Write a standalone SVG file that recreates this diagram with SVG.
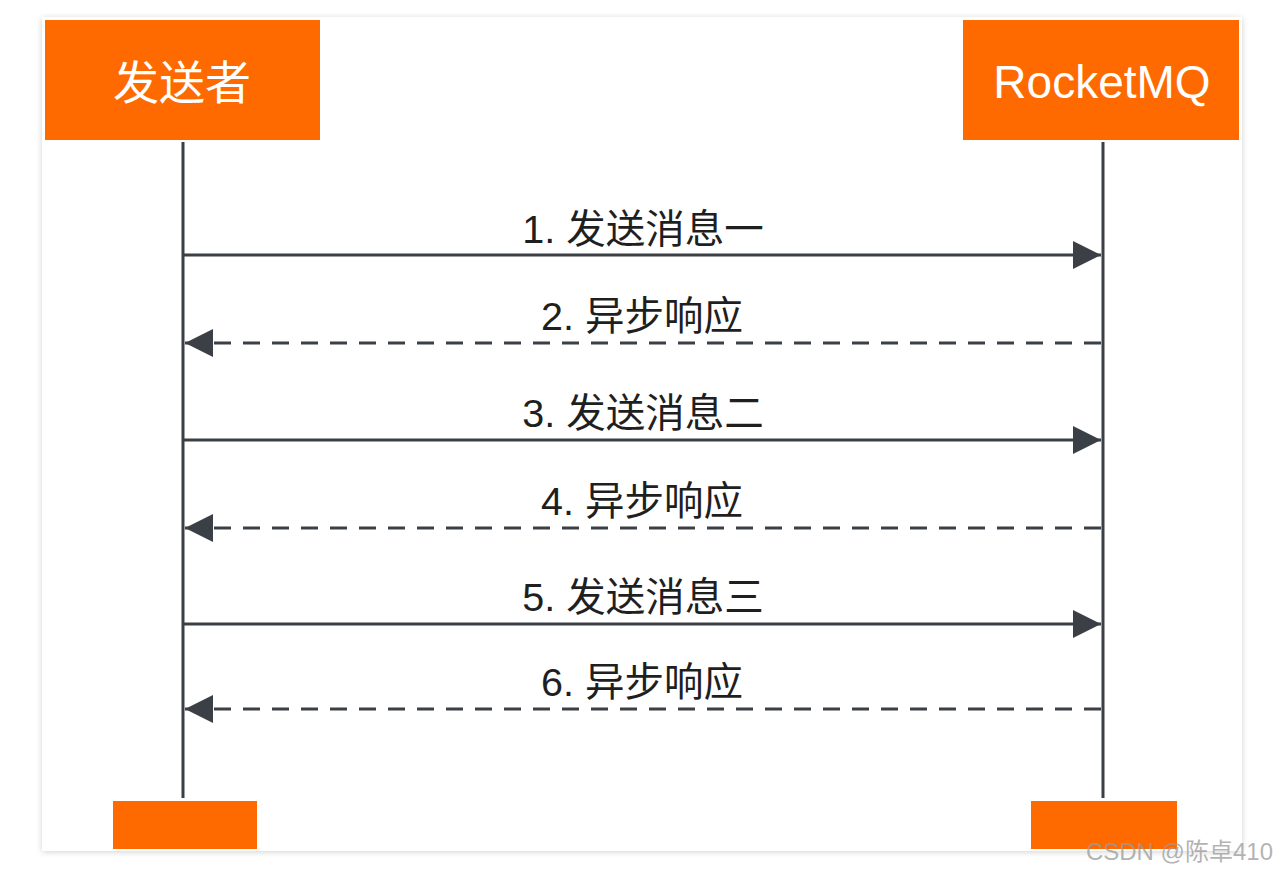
<svg xmlns="http://www.w3.org/2000/svg" width="1278" height="872" viewBox="0 0 1278 872">
<defs>
<filter id="sh" x="-5%" y="-5%" width="110%" height="110%">
<feGaussianBlur in="SourceAlpha" stdDeviation="3"/>
<feOffset dx="0" dy="1"/>
<feComponentTransfer><feFuncA type="linear" slope="0.18"/></feComponentTransfer>
<feMerge><feMergeNode/><feMergeNode in="SourceGraphic"/></feMerge>
</filter>
<marker id="ah" viewBox="0 0 28 28" refX="28" refY="14" markerWidth="28" markerHeight="28" markerUnits="userSpaceOnUse" orient="auto">
<path d="M0,0 L28,14 L0,28 Z" fill="#3b3f46"/>
</marker>
</defs>
<style>
.box{fill:#ff6a00}
.life{stroke:#3b3f46;stroke-width:3;fill:none}
.msg{stroke:#3b3f46;stroke-width:3;fill:none;marker-end:url(#ah)}
.dash{stroke-dasharray:17 12}
.lbl{font-family:"Liberation Sans","Noto Sans CJK SC",sans-serif;font-size:39.5px;fill:#1f1f1f;text-anchor:middle}
.hd{font-family:"Liberation Sans","Noto Sans CJK SC",sans-serif;fill:#ffffff;text-anchor:middle}
</style>
<rect width="1278" height="872" fill="#ffffff"/>
<rect x="42" y="17" width="1200" height="834" fill="#ffffff" filter="url(#sh)"/>
<g id="sender">
<rect class="box" x="45" y="20" width="275" height="120"/>
<text class="hd" x="182" y="99" font-size="46">发送者</text>
</g>
<g id="rocketmq">
<rect class="box" x="963" y="20" width="276" height="120"/>
<text class="hd" x="1102" y="98" font-size="46">RocketMQ</text>
</g>
<g id="sender-end"><rect class="box" x="113" y="801" width="144" height="48"/></g>
<g id="rocketmq-end"><rect class="box" x="1031" y="801" width="146" height="48"/></g>
<g id="connectors">
<line class="life" x1="183" y1="142" x2="183" y2="798"/>
<line class="life" x1="1103" y1="142" x2="1103" y2="798"/>
<line class="msg" x1="183" y1="255" x2="1101" y2="255"/>
<line class="msg dash" x1="1101" y1="343" x2="185" y2="343"/>
<line class="msg" x1="183" y1="440" x2="1101" y2="440"/>
<line class="msg dash" x1="1101" y1="528" x2="185" y2="528"/>
<line class="msg" x1="183" y1="624" x2="1101" y2="624"/>
<line class="msg dash" x1="1101" y1="709" x2="185" y2="709"/>
</g>
<g id="labels">
<text class="lbl" x="643" y="243">1. 发送消息一</text>
<text class="lbl" x="642" y="330">2. 异步响应</text>
<text class="lbl" x="643" y="427">3. 发送消息二</text>
<text class="lbl" x="642" y="515">4. 异步响应</text>
<text class="lbl" x="643" y="611">5. 发送消息三</text>
<text class="lbl" x="642" y="696">6. 异步响应</text>
</g>
<text x="1273" y="860" font-family="Liberation Sans,'Noto Sans CJK SC',sans-serif" font-size="24" fill="#9a9a9a" fill-opacity="0.75" text-anchor="end">CSDN @陈卓410</text>
</svg>
